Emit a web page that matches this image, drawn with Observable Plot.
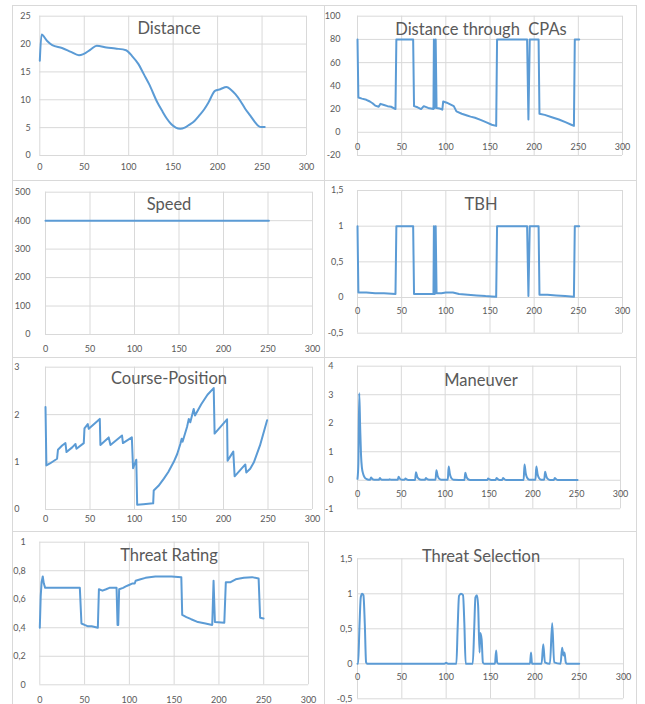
<!DOCTYPE html>
<html>
<head>
<meta charset="utf-8">
<script src="https://cdn.jsdelivr.net/npm/d3@7"></script>
<script src="https://cdn.jsdelivr.net/npm/@observablehq/plot@0.6"></script>
<style>
  html, body { margin: 0; padding: 0; background: #fff; }
  #wrap { position: relative; width: 645px; height: 704px; overflow: hidden; background: #fff; }
  .panel { position: absolute; }
  .border { position: absolute; box-sizing: border-box; border: 1px solid #d9d9d9; pointer-events: none; }
</style>
</head>
<body>
<div id="wrap"></div>
<script>
// ---------- data (x = time step, y = value) ----------
const xTicks = [0, 50, 100, 150, 200, 250, 300];

const distance = [
  [0,17.0],[2,21.7],[8,20.6],[14,19.8],[25,19.3],[35,18.6],[44,18.0],[49,18.2],[57,19.0],[64,19.7],
  [75,19.4],[85,19.2],[97,18.9],[104,17.8],[111,16.4],[117,14.6],[123,12.8],[132,9.6],[138,7.9],
  [143,6.6],[148,5.6],[153,5.0],[158,4.8],[163,5.0],[168,5.5],[174,6.2],[179,7.1],[185,8.3],[190,9.6],
  [197,11.6],[203,11.9],[210,12.3],[215,11.8],[220,11.0],[226,9.7],[231,8.4],[237,7.1],[242,6.0],
  [246,5.3],[249,5.1],[253,5.1]
];
const distanceTicks = [0, 5, 10, 15, 20, 25];

const cpas = [
  [0,80],[1,30],[5,29],[10,28],[14,26.5],[17,25],[20,23],[24,22],[26,24.5],[30,23.5],[34,22.5],[38,22],
  [43,20],[44,80],[63,80],[64,22.5],[68,21.5],[72,20],[75,22.5],[80,21],[86,20],[86.5,80],[87.5,21],
  [88.5,80],[89.5,21],[93,20.5],[96,19.5],[97,26.5],[101,25.5],[105,24],[109,22.5],[112,18],[118,16],
  [124,14.5],[128,13.5],[133,12.5],[140,10.5],[146,8.5],[152,6.5],[157,5.5],[158,80],[192,80],
  [193.5,11],[195,80],[205,80],[206,16],[212,15],[220,13],[228,11],[236,8.5],[242,6.5],[245,5.5],
  [246,80],[251,80]
];
const cpasTicks = [-20, 0, 20, 40, 60, 80, 100];

const speed = [[0,400],[50,400],[100,400],[150,400],[200,400],[251,400]];
const speedTicks = [0, 100, 200, 300, 400, 500];

const tbh = [
  [0,1],[1,0.07],[10,0.07],[20,0.06],[30,0.06],[43,0.05],[44,1],[63,1],[64,0.05],[75,0.05],[86,0.05],
  [86.5,1],[87.5,0.05],[88.5,1],[89.5,0.06],[95,0.06],[100,0.07],[108,0.07],[115,0.05],[125,0.04],
  [135,0.03],[145,0.02],[152,0.015],[157,0.01],[158,1],[192,1],[193.5,0.02],[195,1],[205,1],[206,0.04],
  [215,0.04],[225,0.03],[235,0.02],[245,0.01],[246,1],[251,1]
];
const tbhTicks = [-0.5, 0, 0.5, 1, 1.5];

const course = [
  [0,2.16],[1,0.93],[5,0.97],[13,1.07],[14,1.26],[18.7,1.35],[22.4,1.40],[23.6,1.21],[30,1.31],
  [33.7,1.38],[34.8,1.28],[43,1.40],[43.8,1.71],[47.5,1.80],[48.6,1.70],[61,1.91],[61.7,1.36],
  [71,1.52],[73,1.36],[86,1.56],[87,1.40],[97,1.52],[98.4,0.87],[102,1.05],[103,0.10],[110,0.11],
  [121,0.13],[121.6,0.40],[127,0.50],[133,0.65],[138,0.79],[144,1.0],[148,1.17],[151.5,1.38],
  [153,1.49],[154,1.43],[159,1.74],[161,1.91],[162.7,1.84],[166.5,2.12],[168,1.98],[175,2.22],
  [182,2.42],[189,2.56],[190,1.6],[204,1.9],[204.6,1.03],[211,1.22],[212.5,0.7],[224.5,0.95],
  [225.6,0.78],[230,0.86],[234,0.99],[241,1.35],[249,1.88]
];
const courseTicks = [0, 1, 2, 3];

const maneuver = [
  [0,0.05],[1,0.6],[2,3.05],[3,1.9],[4,0.9],[5,0.45],[6.5,0.22],[8,0.11],[10,0.05],[13,0.02],
  [14.5,0.02],[15.4,0.10],[17,0.04],[19,0.02],
  [24.5,0.02],[25.5,0.08],[27,0.03],[29,0.02],
  [35.7,0.02],[36.7,0.04],[38,0.02],
  [45.9,0.02],[46.9,0.12],[48.5,0.05],[50.5,0.02],
  [53.7,0.02],[54.7,0.06],[56,0.03],[58,0.01],
  [65.7,0.01],[66.7,0.28],[68.2,0.12],[70,0.05],[72.5,0.02],
  [77,0.02],[78,0.08],[79.5,0.04],[81.5,0.02],
  [89,0.02],[90,0.35],[91.5,0.15],[93,0.06],[95.5,0.02],
  [103,0.02],[104,0.48],[105.5,0.2],[107,0.08],[109.5,0.02],
  [122,0.01],[123,0.26],[124.5,0.11],[126,0.04],[128.5,0.01],
  [148,0.01],[149,0.06],[150.5,0.03],[152.5,0.01],
  [157.6,0.01],[158.6,0.08],[160,0.04],[162,0.01],
  [165,0.01],[166,0.08],[167.5,0.04],[169.5,0.01],
  [189.5,0.01],[190.5,0.55],[192,0.23],[193.5,0.09],[196,0.02],
  [203,0.02],[204,0.48],[205.5,0.2],[207,0.08],[209.5,0.02],
  [213,0.02],[214,0.30],[215.5,0.13],[217,0.05],[219.5,0.01],
  [224,0.01],[225,0.08],[226.5,0.04],[228.5,0.01],[240,0.01],[251,0.01]
];
const maneuverTicks = [-1, 0, 1, 2, 3, 4];

const threatRating = [
  [0,0.40],[1,0.62],[2,0.72],[3.3,0.76],[4.5,0.71],[6,0.68],[20,0.68],[44.7,0.68],[46.5,0.43],
  [50,0.42],[53.8,0.41],[58,0.41],[64.8,0.40],[66,0.67],[70,0.66],[74,0.67],[77.7,0.68],[85.7,0.68],
  [86.8,0.42],[87.6,0.42],[88.6,0.67],[93,0.68],[96,0.69],[99.6,0.70],[103,0.71],[106,0.71],[107,0.73],
  [112.5,0.74],[118,0.75],[129,0.76],[147,0.76],[158,0.755],[159,0.49],[163.7,0.475],[169,0.46],
  [176.6,0.44],[185,0.43],[192.5,0.42],[194,0.73],[195.5,0.44],[206,0.435],[207.7,0.72],[213,0.72],
  [218.7,0.74],[227.8,0.75],[237,0.755],[244.3,0.745],[246,0.47],[249.8,0.465]
];
const threatRatingTicks = [0, 0.2, 0.4, 0.6, 0.8, 1];

const threatSelection = [
  [0,0],[0.7,0],[2.2,0.53],[3.7,0.95],[5.2,1.0],[6.7,0.98],[8.2,0.58],[9.7,0.02],[11,0],[98,0],
  [100,0.015],[102,0],[111.5,0],[113,0.53],[114.5,0.97],[116.7,1.0],[119,0.98],[120.5,0.58],[122,0],
  [130,0],[131.7,0.53],[133,0.95],[134.7,0.98],[136,0.84],[137.7,0.16],[138.4,0.44],[140,0.35],
  [141.4,0.02],[143,0],[155,0],[156.4,0.19],[157.5,0.02],[159,0],[194.5,0],[195.7,0.16],[196.8,0],
  [207.6,0],[209.5,0.28],[211.4,0.02],[217,0],[219.6,0.58],[221.8,0.02],[229,0],[230.8,0.23],
  [232.3,0.12],[233.4,0.16],[234.9,0.02],[236,0],[250,0]
];
const threatSelectionTicks = [-0.5, 0, 0.5, 1, 1.5];

// ---------- layout ----------
const panels = [
  {title: "Distance", data: distance, ticks: distanceTicks, curve: "monotone-x",
   left: 12, top: 5, w: 313, h: 175, mL: 27.3, mR: 19, mT: 10.7, mB: 25, yGap: 9, xDy: 12, titleY: 23},
  {title: "Distance through\u00a0 CPAs", data: cpas, ticks: cpasTicks, curve: "linear",
   left: 324, top: 5, w: 313, h: 175, mL: 33, mR: 15, mT: 10.7, mB: 25, yGap: 17, xDy: 15, titleY: 24},
  {title: "Speed", data: speed, ticks: speedTicks, curve: "linear",
   left: 12, top: 180, w: 313, h: 177, mL: 33, mR: 13, mT: 11.7, mB: 23, yGap: 15, xDy: 15, titleY: 24},
  {title: "TBH", data: tbh, ticks: tbhTicks, curve: "linear",
   left: 324, top: 180, w: 313, h: 177, mL: 33, mR: 15, mT: 10, mB: 24.3, yGap: 14, xDy: 14, titleY: 24},
  {title: "Course-Position", data: course, ticks: courseTicks, curve: "linear",
   left: 12, top: 357, w: 313, h: 174, mL: 33, mR: 13, mT: 9.7, mB: 22, yGap: 26, xDy: 10, titleY: 21},
  {title: "Maneuver", data: maneuver, ticks: maneuverTicks, curve: "monotone-x",
   left: 324, top: 357, w: 313, h: 174, mL: 33, mR: 17, mT: 8.7, mB: 22.7, yGap: 24, xDy: 14, titleY: 23},
  {title: "Threat Rating", data: threatRating, ticks: threatRatingTicks, curve: "linear",
   left: 12, top: 531, w: 313, h: 173, mL: 27.3, mR: 17, mT: 10.7, mB: 19.7, yGap: 14, xDy: 15, titleY: 24},
  {title: "Threat Selection", data: threatSelection, ticks: threatSelectionTicks, curve: "monotone-x",
   left: 324, top: 531, w: 313, h: 173, mL: 33, mR: 14, mT: 27.3, mB: 5.7, yGap: 5, xDy: 13, titleY: 25}
];

const fmt = d => String(d).replace(".", ",");
const wrap = document.getElementById("wrap");
const GRID = "#d9d9d9", TEXT = "#595959", LINE = "#5B9BD5";

for (const p of panels) {
  const yDomain = [p.ticks[0], p.ticks[p.ticks.length - 1]];
  const chart = Plot.plot({
    width: p.w, height: p.h,
    marginLeft: p.mL, marginRight: p.mR, marginTop: p.mT, marginBottom: p.mB,
    x: {domain: [0, 300], axis: null},
    y: {domain: yDomain, axis: null},
    style: {fontFamily: "Lato, 'Open Sans', sans-serif", fontSize: "9px", color: TEXT, background: "transparent", overflow: "visible"},
    marks: [
      Plot.gridX(xTicks, {stroke: GRID, strokeOpacity: 1}),
      Plot.gridY(p.ticks, {stroke: GRID, strokeOpacity: 1}),
      Plot.line(p.data, {x: d => d[0], y: d => d[1], stroke: LINE, strokeWidth: 2, curve: p.curve}),
      Plot.axisY({ticks: p.ticks, tickSize: 0, tickPadding: p.yGap, tickFormat: fmt, label: null, fill: TEXT, fontSize: 9}),
      Plot.text(xTicks, {x: d => d, y: () => 0, dy: p.xDy, text: fmt, fill: TEXT, fontSize: 9, lineAnchor: "middle"}),
      Plot.text([p.title], {frameAnchor: "top", dx: (p.mR - p.mL) / 2, dy: p.titleY - p.mT, lineAnchor: "middle",
        fontSize: 16.5, fill: TEXT})
    ]
  });
  const div = document.createElement("div");
  div.className = "panel";
  div.style.left = p.left + "px";
  div.style.top = p.top + "px";
  div.style.width = p.w + "px";
  div.style.height = p.h + "px";
  div.appendChild(chart);
  wrap.appendChild(div);
  const b = document.createElement("div");
  b.className = "border";
  b.style.left = p.left + "px";
  b.style.top = p.top + "px";
  b.style.width = p.w + "px";
  b.style.height = (p.h + 1) + "px";
  wrap.appendChild(b);
}
</script>
</body>
</html>
